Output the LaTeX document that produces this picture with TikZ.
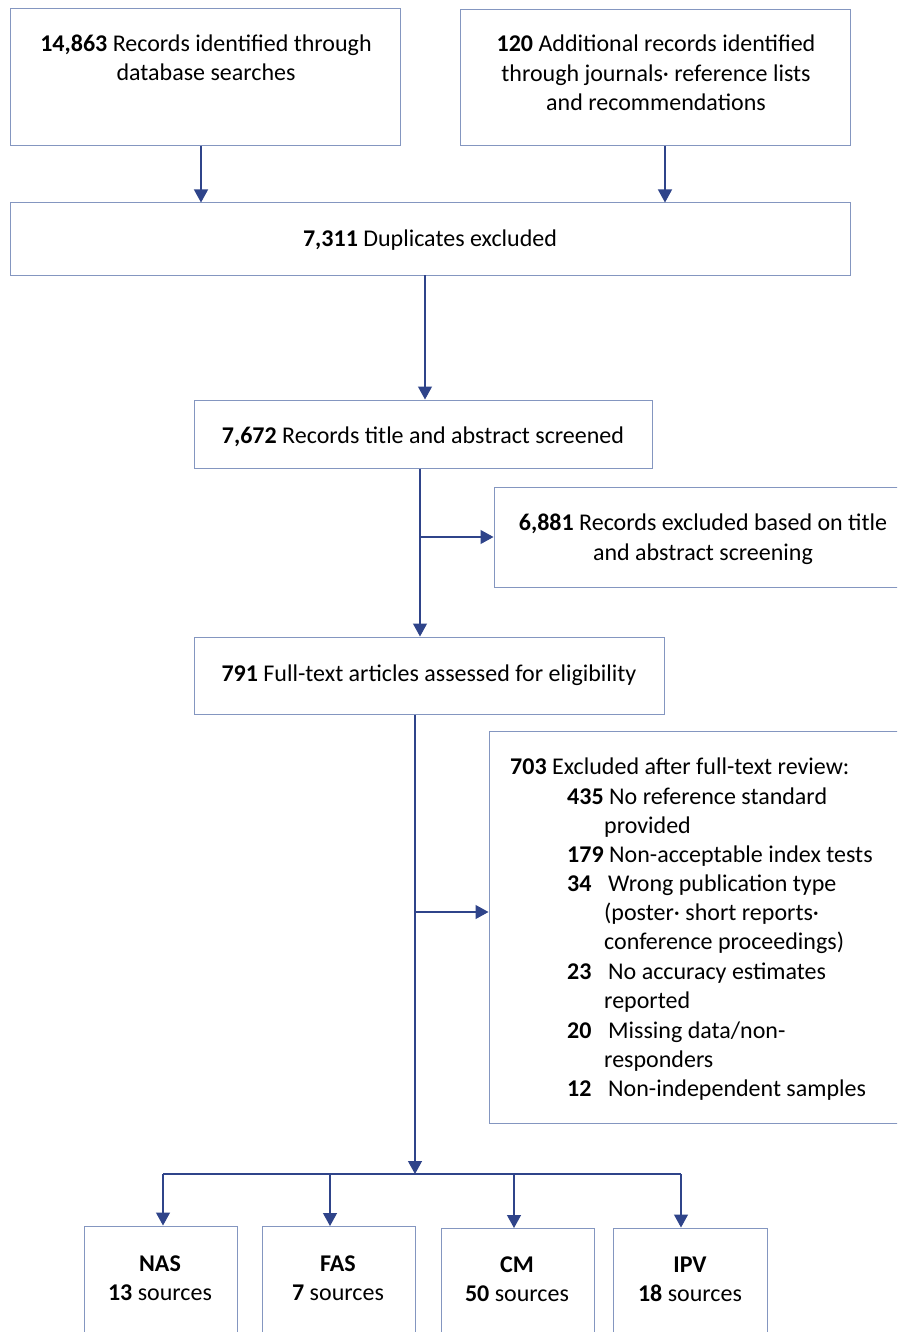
\documentclass[tikz,border=0pt]{standalone}
\usepackage{fontspec}
\setmainfont{Carlito}
\usetikzlibrary{arrows.meta}
\definecolor{boxc}{RGB}{132,150,192}
\definecolor{arrc}{RGB}{47,68,138}
\tikzset{
  box/.style={draw=boxc, line width=1pt, inner sep=0pt},
  txt/.style={anchor=base, inner sep=0pt, font=\fontsize{24}{29}\selectfont},
  ltxt/.style={anchor=base west, inner sep=0pt, font=\fontsize{24}{29}\selectfont},
  arr/.style={draw=arrc, line width=1.2pt, -{Triangle[width=14pt,length=13pt]}},
  ln/.style={draw=arrc, line width=1.2pt},
}
\newcommand{\mkbox}[5]{\node[box, minimum width=#4-#2, minimum height=#5-#3] (#1) at ({(#2+#4)/2},{(#3+#5)/2}) {};}
\begin{document}
\begin{tikzpicture}[x=1pt,y=-1pt]
\useasboundingbox (0,0) rectangle (897,1332);
\clip (0,0) rectangle (897,1332);
\fill[white] (0,0) rectangle (897,1332);
% boxes
\mkbox{A}{10}{9}{400}{146}
\mkbox{B}{460}{10}{850}{146}
\mkbox{C}{10}{203}{850}{275}
\mkbox{D}{194}{400}{652}{468}
\mkbox{E}{494}{487}{910}{587}
\mkbox{F}{194}{637}{664}{714}
\mkbox{G}{489}{731}{910}{1123}
\mkbox{NAS}{84}{1226}{237}{1345}
\mkbox{FAS}{262}{1226}{415}{1345}
\mkbox{CM}{441}{1228}{594}{1345}
\mkbox{IPV}{613}{1228}{767}{1345}
% texts
\node[txt] (tA1) at (206,52) {\textbf{14,863} Records identified through};
\node[txt] (tA2) at (206,81) {database searches};
\node[txt] (tB1) at (656,52) {\textbf{120} Additional records identified};
\node[txt] (tB2) at (656,82) {through journals· reference lists};
\node[txt] (tB3) at (656,111) {and recommendations};
\node[txt] (tC) at (430,247) {\textbf{7,311} Duplicates excluded};
\node[txt] (tD) at (423,443) {\textbf{7,672} Records title and abstract screened};
\node[txt] (tE1) at (703,530) {\textbf{6,881} Records excluded based on title};
\node[txt] (tE2) at (703,560) {and abstract screening};
\node[txt] (tF) at (429,681) {\textbf{791} Full-text articles assessed for eligibility};
% exclusion list
\node[ltxt] (g0) at (510,774) {\textbf{703} Excluded after full-text review:};
\node[ltxt] (g1n) at (567,804) {\textbf{435}};
\node[ltxt] (g1) at (609,804) {No reference standard};
\node[ltxt] (g1b) at (604,833) {provided};
\node[ltxt] (g2n) at (567,862) {\textbf{179}};
\node[ltxt] (g2) at (609,862) {Non-acceptable index tests};
\node[ltxt] (g3n) at (567,891) {\textbf{34}};
\node[ltxt] (g3) at (608,891) {Wrong publication type};
\node[ltxt] (g3b) at (604,920) {(poster· short reports·};
\node[ltxt] (g3c) at (604,949) {conference proceedings)};
\node[ltxt] (g4n) at (567,979) {\textbf{23}};
\node[ltxt] (g4) at (608,979) {No accuracy estimates};
\node[ltxt] (g4b) at (604,1008) {reported};
\node[ltxt] (g5n) at (567,1038) {\textbf{20}};
\node[ltxt] (g5) at (608,1038) {Missing data/non-};
\node[ltxt] (g5b) at (604,1067) {responders};
\node[ltxt] (g6n) at (567,1096) {\textbf{12}};
\node[ltxt] (g6) at (608,1096) {Non-independent samples};
% bottom texts
\node[txt] (n1) at (160,1271) {\textbf{NAS}};
\node[txt] (n2) at (160,1300) {\textbf{13} sources};
\node[txt] (f1) at (338,1271) {\textbf{FAS}};
\node[txt] (f2) at (338,1300) {\textbf{7} sources};
\node[txt] (c1) at (517,1272) {\textbf{CM}};
\node[txt] (c2) at (517,1301) {\textbf{50} sources};
\node[txt] (i1) at (690,1272) {\textbf{IPV}};
\node[txt] (i2) at (690,1301) {\textbf{18} sources};
% connectors
\coordinate (a1) at (201,146);
\coordinate (b1) at (665,146);
\coordinate (c1x) at (425,275);
\coordinate (s1) at (420,537);
\coordinate (s2) at (415,912);
\coordinate (bus) at (415,1174);
\coordinate (bl) at (163,1174);
\coordinate (br) at (681,1174);
\draw[arr] (a1) -- (a1 |- C.north);
\draw[arr] (b1) -- (b1 |- C.north);
\draw[arr] (c1x) -- (c1x |- D.north);
\draw[arr] (s1 |- D.south) -- (s1 |- F.north);
\draw[arr] (s1) -- (E.west |- s1);
\draw[arr] (s2 |- F.south) -- (bus);
\draw[arr] (s2) -- (G.west |- s2);
\draw[ln] (bl) -- (br);
\draw[arr] (bl) -- (bl |- NAS.north);
\draw[arr] (330,1174) -- (330,1226);
\draw[arr] (514,1174) -- (514,1228);
\draw[arr] (br) -- (br |- IPV.north);
\end{tikzpicture}
\end{document}
